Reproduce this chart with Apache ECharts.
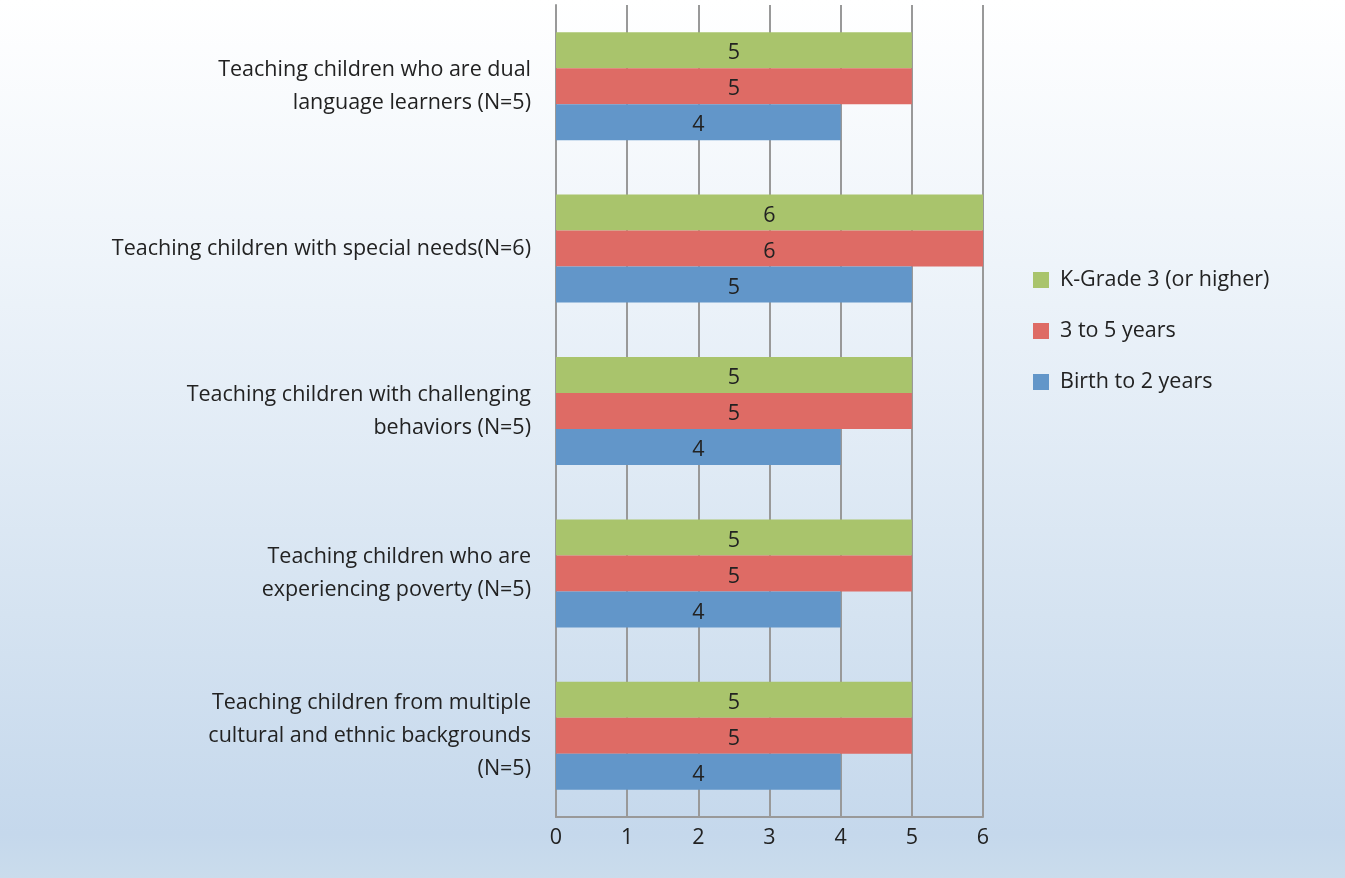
<!DOCTYPE html>
<html>
<head>
<meta charset="utf-8">
<script src="https://cdn.jsdelivr.net/npm/echarts@6/dist/echarts.min.js"></script>
<style>
html,body{margin:0;padding:0;}
#chart{width:1345px;height:878px;background:linear-gradient(to bottom,#ffffff 0%,#eef4fa 30%,#d5e3f1 70%,#c5d8ec 95%,#cadcec 100%);}
</style>
</head>
<body>
<div id="chart"></div>
<script>
const categories = [
  "Teaching children who are dual\nlanguage learners (N=5)",
  "Teaching children with special needs(N=6)",
  "Teaching children with challenging\nbehaviors (N=5)",
  "Teaching children who are\nexperiencing poverty (N=5)",
  "Teaching children from multiple\ncultural and ethnic backgrounds\n(N=5)"
];
const seriesNames = ["K-Grade 3 (or higher)", "3 to 5 years", "Birth to 2 years"];
const kGrade3 = [5, 6, 5, 5, 5];
const age3to5 = [5, 6, 5, 5, 5];
const birthTo2 = [4, 5, 4, 4, 4];
const xTicks = [0, 1, 2, 3, 4, 5, 6];

const FONT = "'Open Sans', Lato, sans-serif";
const FS = 21.5;
const colors = ["#a9c46c", "#de6b65", "#6296c9"];
const values = [kGrade3, age3to5, birthTo2];

const chart = echarts.init(document.getElementById('chart'), null, {renderer: 'canvas'});
const series = seriesNames.map((name, i) => ({
  name: name,
  type: 'bar',
  data: values[i],
  barWidth: 36,
  barGap: '0%',
  itemStyle: {color: colors[i]},
  label: {
    show: true,
    position: 'inside',
    offset: [0, 3],
    color: '#222',
    fontSize: FS,
    fontFamily: FONT
  }
}));

chart.setOption({
  backgroundColor: 'transparent',
  animation: false,
  grid: {left: 556, right: 362, top: 5, bottom: 61, containLabel: false},
  legend: {
    orient: 'vertical',
    left: 1028,
    top: 264,
    data: seriesNames,
    itemWidth: 16,
    itemHeight: 16,
    itemGap: 29,
    icon: 'rect',
    textStyle: {fontSize: FS, color: '#222', fontFamily: FONT, padding: [0, 0, 0, 6]}
  },
  xAxis: {
    type: 'value',
    min: xTicks[0],
    max: xTicks[xTicks.length - 1],
    interval: 1,
    axisLine: {show: true, lineStyle: {color: '#999', width: 2}},
    axisTick: {show: false},
    splitLine: {show: true, lineStyle: {color: '#999', width: 2}},
    axisLabel: {fontSize: FS, color: '#222', fontFamily: FONT, margin: 10}
  },
  yAxis: {
    type: 'category',
    data: categories,
    inverse: true,
    axisLine: {show: true, lineStyle: {color: '#999', width: 2}},
    axisTick: {show: false},
    splitLine: {show: false},
    axisLabel: {fontSize: FS, color: '#222', fontFamily: FONT, margin: 25, lineHeight: 33, align: 'right', padding: [6, 0, 0, 0]}
  },
  series: series
});
</script>
</body>
</html>
